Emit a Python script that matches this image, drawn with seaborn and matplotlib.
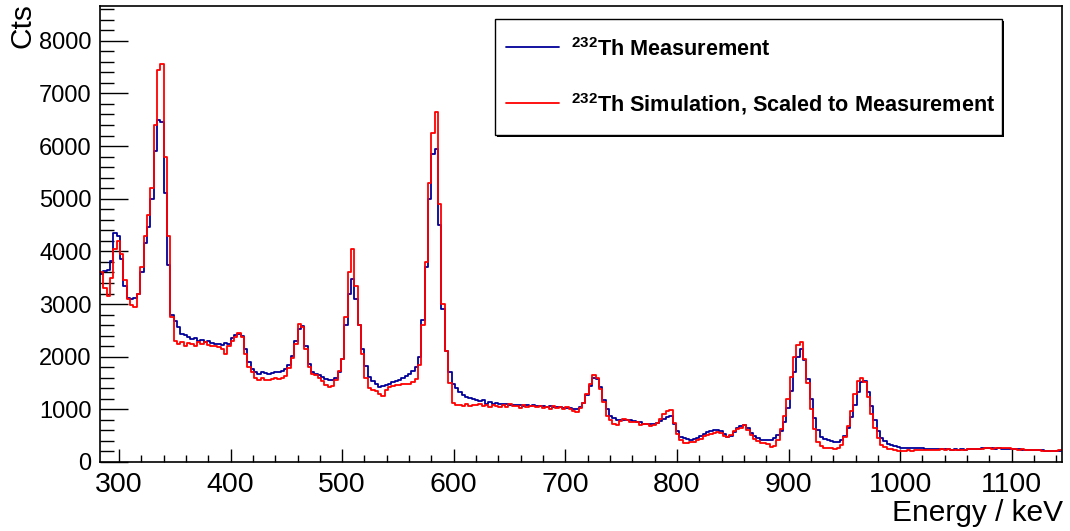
import numpy as np
import pandas as pd
import matplotlib
matplotlib.use("Agg")
import matplotlib.pyplot as plt
import seaborn as sns
from matplotlib.patches import Rectangle
from matplotlib.lines import Line2D
from matplotlib.ticker import MultipleLocator

# ---------------- data (3 keV bins starting at 283 keV) ----------------
bin_start = 283.0
bin_width = 3.0

measurement = [
    3570, 3620, 3650, 3820, 4350, 4300, 3850, 3350, 3120, 3090,   # 283-313
    3120, 3190, 3600, 4150, 4470, 5000, 5900, 6500, 6450, 5100,   # 313-343
    3750, 2800, 2680, 2560, 2440, 2410, 2370, 2330, 2350, 2300,   # 343-373
    2310, 2280, 2300, 2260, 2250, 2240, 2230, 2260, 2250, 2350,   # 373-403
    2410, 2440, 2400, 2150, 1900, 1760, 1710, 1680, 1700, 1690,   # 403-433
    1680, 1690, 1700, 1705, 1720, 1760, 1850, 2020, 2300, 2520,   # 433-463
    2580, 2200, 1860, 1700, 1670, 1650, 1610, 1580, 1555, 1560,   # 463-493
    1600, 1700, 1950, 2600, 3200, 3470, 3100, 2600, 2150, 1820,   # 493-523
    1620, 1540, 1480, 1430, 1440, 1460, 1490, 1510, 1530, 1550,   # 523-553
    1600, 1640, 1680, 1720, 1800, 2000, 2700, 3700, 5000, 5850,   # 553-583
    5950, 4500, 2900, 2100, 1700, 1490, 1400, 1320, 1280, 1240,   # 583-613
    1210, 1190, 1175, 1150, 1180, 1110, 1130, 1100, 1120, 1105,   # 613-643
    1095, 1110, 1080, 1090, 1075, 1085, 1070, 1080, 1065, 1075,   # 643-673
    1060, 1070, 1055, 1050, 1060, 1045, 1040, 1050, 1035, 1030,   # 673-703
    1030, 1015, 1010, 1040, 1120, 1280, 1450, 1600, 1570, 1420,   # 703-733
    1180, 1000, 870, 830, 800, 795, 805, 800, 790, 775,           # 733-763
    765, 755, 730, 720, 715, 730, 740, 770, 820, 860,             # 763-793
    870, 720, 580, 480, 450, 435, 425, 440, 460, 490,             # 793-823
    530, 570, 590, 610, 615, 590, 530, 480, 500, 570,             # 823-853
    640, 690, 710, 640, 545, 490, 450, 425, 415, 412,             # 853-883
    413, 450, 510, 590, 760, 1030, 1340, 1700, 2000, 2150,        # 883-913
    1930, 1580, 1200, 830, 600, 480, 440, 420, 390, 385,          # 913-943
    385, 410, 500, 650, 850, 1080, 1320, 1510, 1540, 1330,        # 943-973
    1060, 790, 580, 460, 400, 345, 315, 295, 285, 275,            # 973-1003
    270, 265, 272, 260, 262, 258, 255, 250, 252, 248,             # 1003-1033
    245, 240, 243, 238, 236, 240, 235, 238, 236, 240,             # 1033-1063
    245, 250, 255, 262, 268, 265, 258, 255, 260, 255,             # 1063-1093
    250, 245, 242, 240, 238, 236, 235, 232, 228, 225,             # 1093-1123
    222, 220, 218, 215, 212, 210, 215, 220,                       # 1123-1147
]

simulation = [
    3600, 3300, 3150, 3500, 4050, 4200, 3950, 3450, 3100, 2990,
    2950, 3190, 3700, 4300, 4700, 5200, 6400, 7450, 7550, 5800,
    4300, 2750, 2300, 2250, 2280, 2200, 2260, 2240, 2210, 2270,
    2250, 2280, 2230, 2200, 2210, 2180, 2150, 2060, 2200, 2300,
    2380, 2450, 2380, 2050, 1800, 1700, 1600, 1550, 1590, 1560,
    1550, 1580, 1590, 1580, 1600, 1640, 1780, 1970, 2250, 2630,
    2560, 2150, 1800, 1680, 1650, 1600, 1540, 1470, 1420, 1450,
    1550, 1720, 1950, 2750, 3600, 4050, 3350, 2600, 2050, 1600,
    1400, 1370, 1350, 1300, 1260, 1360, 1420, 1440, 1460, 1455,
    1480, 1490, 1490, 1510, 1580, 1850, 2600, 3800, 5300, 6250,
    6650, 4900, 3000, 2100, 1500, 1120, 1080, 1090, 1070, 1100,
    1060, 1090, 1075, 1100, 1060, 1080, 1040, 1090, 1070, 1050,
    1080, 1040, 1095, 1060, 1070, 1030, 1085, 1050, 1070, 1060,
    1040, 1065, 1030, 1050, 1010, 1060, 1030, 1040, 1000, 1050,
    1010, 960, 950, 1030, 1120, 1300, 1480, 1660, 1600, 1380,
    1130, 880, 790, 720, 700, 780, 810, 790, 760, 765,
    760, 700, 730, 720, 680, 700, 740, 820, 910, 970,
    980, 740, 540, 420, 370, 370, 380, 385, 410, 445,
    490, 520, 540, 560, 570, 550, 490, 470, 510, 590,
    620, 650, 710, 610, 520, 440, 390, 365, 355, 345,
    290, 310, 420, 620, 880, 1200, 1620, 2000, 2220, 2270,
    1950, 1500, 1000, 620, 380, 300, 275, 265, 260, 255,
    275, 330, 470, 680, 960, 1300, 1540, 1590, 1520, 1230,
    920, 650, 450, 330, 280, 255, 240, 225, 215, 210,
    215, 222, 218, 230, 225, 220, 232, 228, 236, 230,
    235, 240, 232, 238, 236, 228, 232, 236, 230, 238,
    240, 248, 255, 250, 262, 258, 250, 270, 275, 265,
    275, 265, 250, 242, 236, 240, 232, 228, 224, 222,
    220, 218, 215, 212, 210, 215, 225, 235,
]

series_labels = [r"$^{232}$Th Measurement",
                 r"$^{232}$Th Simulation, Scaled to Measurement"]
series_colors = ["#000099", "#ff0000"]
x_ticks = [300, 400, 500, 600, 700, 800, 900, 1000, 1100]
y_ticks = [0, 1000, 2000, 3000, 4000, 5000, 6000, 7000, 8000]
x_label = "Energy / keV"
y_label = "Cts"
x_range = (283, 1145)
y_range = (0, 8660)

# ---------------- style ----------------
sns.set_style("white")
plt.rcParams["font.family"] = ["Liberation Sans", "DejaVu Sans"]
plt.rcParams["mathtext.fontset"] = "custom"
plt.rcParams["mathtext.rm"] = "Liberation Sans:bold"
plt.rcParams["mathtext.it"] = "Liberation Sans:bold"
plt.rcParams["mathtext.bf"] = "Liberation Sans:bold"
for key in ["text.color", "axes.labelcolor", "xtick.color", "ytick.color",
            "axes.edgecolor", "xtick.labelcolor", "ytick.labelcolor"]:
    plt.rcParams[key] = "black"

W, H = 1070, 531
fig = plt.figure(figsize=(W / 100, H / 100), dpi=100)
fig.patch.set_facecolor("white")

def fx(px):
    return px / W

def fy(py):
    return 1 - py / H

ax_l, ax_r, ax_t, ax_b = 100, 1062, 6, 462
ax = fig.add_axes([fx(ax_l), fy(ax_b), fx(ax_r) - fx(ax_l), fy(ax_t) - fy(ax_b)])

n = len(measurement)
centers = bin_start + bin_width * (np.arange(n) + 0.5)
bin_end = bin_start + bin_width * n

for vals, col in zip([measurement, simulation], series_colors):
    df = pd.DataFrame({"energy": centers, "counts": np.asarray(vals, dtype=float)})
    sns.histplot(data=df, x="energy", weights="counts",
                 binwidth=bin_width, binrange=(bin_start, bin_end),
                 element="step", fill=False, color=col, linewidth=1.3,
                 ax=ax, legend=False)

ax.set_xlim(*x_range)
ax.set_ylim(*y_range)
ax.set_xlabel("")
ax.set_ylabel("")
ax.set_xticks(x_ticks)
ax.set_yticks(y_ticks)
ax.xaxis.set_minor_locator(MultipleLocator(20))
ax.yaxis.set_minor_locator(MultipleLocator(200))
ax.tick_params(axis="both", which="both", direction="in", top=False, right=False,
               bottom=True, left=True, color="black", labelcolor="black", width=1.0)
ax.tick_params(axis="x", which="major", length=9.5, labelsize=20.5, pad=7)
ax.tick_params(axis="x", which="minor", length=5)
ax.tick_params(axis="y", which="major", length=20, labelsize=17, pad=6)
ax.tick_params(axis="y", which="minor", length=10)
for sp in ax.spines.values():
    sp.set_visible(True)
    sp.set_color("black")
    sp.set_linewidth(1.2)

fig.text(fx(ax_r + 1), fy(521), x_label, ha="right", va="baseline", fontsize=21.5,
         color="black")
fig.text(fx(8), fy(3), y_label, ha="left", va="top", rotation=90, fontsize=21.5,
         color="black")

# ---------------- legend (ROOT-like box with shadow) ----------------
lx0, lx1, ly0, ly1 = 495, 1002, 19, 135
shadow = Rectangle((fx(lx0 + 2), fy(ly1 + 2)), fx(lx1) - fx(lx0), fy(ly0) - fy(ly1),
                   transform=fig.transFigure, facecolor="black", edgecolor="black",
                   lw=0, zorder=10)
box = Rectangle((fx(lx0), fy(ly1)), fx(lx1) - fx(lx0), fy(ly0) - fy(ly1),
                transform=fig.transFigure, facecolor="white", edgecolor="black",
                lw=1.0, zorder=11)
fig.add_artist(shadow)
fig.add_artist(box)
for i, (lab, col) in enumerate(zip(series_labels, series_colors)):
    yc = [47, 103][i]
    fig.add_artist(Line2D([fx(506), fx(559)], [fy(yc), fy(yc)], color=col, lw=1.3,
                          transform=fig.transFigure, zorder=12))
    fig.text(fx(571), fy(yc + 8.5), lab, ha="left", va="baseline", fontsize=15.6,
             fontweight="bold", color="black", zorder=12)

fig.savefig("out.png", dpi=100, facecolor="white")
